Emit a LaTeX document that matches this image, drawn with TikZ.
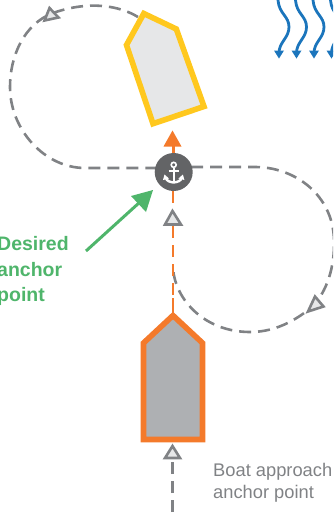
\documentclass[tikz,border=0pt]{standalone}
\usepackage{fontspec}
\setmainfont{Liberation Sans}
\definecolor{dashgray}{HTML}{808285}
\definecolor{boatorange}{HTML}{F47A2B}
\definecolor{boatyellow}{HTML}{FFC81E}
\definecolor{hullgray}{HTML}{AEB0B3}
\definecolor{hulllight}{HTML}{E6E7E8}
\definecolor{anchorgray}{HTML}{636466}
\definecolor{wave}{HTML}{1B75BC}
\definecolor{desgreen}{HTML}{4FB56B}
\tikzset{
  path dash/.style={draw=dashgray,line width=2.6pt,dash pattern=on 12pt off 7pt},
  orange dash/.style={draw=boatorange,line width=2.6pt,dash pattern=on 12pt off 7pt},
  marker/.style={draw=dashgray,fill=hulllight,line width=2.6pt,line join=miter},
  hull/.style={line width=5.6pt,line join=miter},
  wavy/.style={draw=wave,line width=2.8pt},
  wavehead/.style={fill=wave},
  caption/.style={text=dashgray,font=\fontsize{18.3}{22.5}\selectfont,align=left,anchor=north west,inner sep=0pt},
  green label/.style={text=desgreen,font=\bfseries\fontsize{19.5}{25.5}\selectfont,align=left,anchor=north west,inner sep=0pt}
}
\begin{document}
\begin{tikzpicture}[x=1pt,y=-1pt]
\useasboundingbox (0,0) rectangle (333,515);
\clip (0,0) rectangle (333,515);
\foreach \wx in {278,295.5,313,330.5}{
  \draw[wavy] (\wx,0) .. controls (\wx+1,14) and (\wx+11,16) .. (\wx+11,27)
     .. controls (\wx+11,38) and (\wx+1,42) .. (\wx+1,53);
  \fill[wavehead] (\wx-4,50.5) -- (\wx+6,50.5) -- (\wx+1,58.5) -- cycle;
}
\coordinate (boattop) at (138,17);
\coordinate (leftend) at (156,168);
\coordinate (rightstart) at (191,167);
\coordinate (mergepoint) at (173,268);
\draw[path dash] (boattop) .. controls (120,6) and (90,0) .. (53,13)
  .. controls (24,24) and (10,56) .. (10,87)
  .. controls (10,130) and (45,168) .. (85,168) -- (leftend);
\draw[path dash] (rightstart) -- (255,167)
  .. controls (295,167) and (333,195) .. (334,240)
  .. controls (335,275) and (322,297) .. (312,307)
  .. controls (290,325) and (270,332) .. (250,332)
  .. controls (205,332) and (175,300) .. (mergepoint);
\coordinate (mastertop) at (173,190);
\coordinate (masterbottom) at (173,316);
\draw[orange dash] (mastertop) ++(0,1) -- (173,208);
\draw[orange dash] (173,226) -- (173,298);
\draw[draw=boatorange,line width=2.6pt] (173,298) -- (masterbottom);
\draw[draw=boatorange,line width=3pt] (173,155) -- (173,145);
\fill[boatorange] (172.5,130.5) -- (181.5,146.5) -- (163.5,146.5) -- cycle;
\draw[hull,draw=boatyellow,fill=hulllight] (143.8,13.5) -- (176.3,29) -- (204,106.5) -- (153,123.7) -- (126.5,45) -- cycle;
\draw[hull,draw=boatorange,fill=hullgray] (173,315.5) -- (202.5,343) -- (202.5,439.5) -- (143.5,439.5) -- (143.5,343) -- cycle;
\node[circle,fill=anchorgray,minimum size=38pt,inner sep=0pt] (anchorpt) at (173.7,172) {};
\draw[white,line width=1.6pt] (173.7,164.8) circle (2.5pt);
\draw[white,line width=2.4pt] (173.7,167.5) -- (173.7,181);
\draw[white,line width=2pt] (168.5,171.3) -- (178.9,171.3);
\draw[white,line width=2.4pt] (166,177.5) .. controls (166,181) and (170,182) .. (173.7,182.5)
   .. controls (177.4,182) and (181.4,181) .. (181.4,177.5);
\fill[white] (163,180) -- (164.5,174.5) -- (169,178.5) -- cycle;
\fill[white] (184.4,180) -- (182.9,174.5) -- (178.4,178.5) -- cycle;
\draw[marker] (172.5,211) -- (181,224.5) -- (165,224.5) -- cycle;
\draw[marker] (49.5,8) -- (58.5,17.5) -- (44.5,20.5) -- cycle;
\draw[marker] (315,296.5) -- (323.5,306.5) -- (308,311.5) -- cycle;
\coordinate (tailend) at (172.5,512);
\draw[path dash] (tailend) -- (172.5,458);
\draw[marker] (172.5,446) -- (180,458) -- (165,458) -- cycle;
\coordinate (greenstart) at (86,251);
\coordinate (greentip) at (153,190);
\draw[draw=desgreen,line width=3pt] (greenstart) -- (140,202);
\fill[desgreen] (greentip) -- (146,212) -- (131,196) -- cycle;
\node[green label] (desired) at (-3,236.5) {Desired\\anchor\\point};
\node[caption] (approach) at (213,463) {Boat approach\\anchor point};
\end{tikzpicture}
\end{document}
